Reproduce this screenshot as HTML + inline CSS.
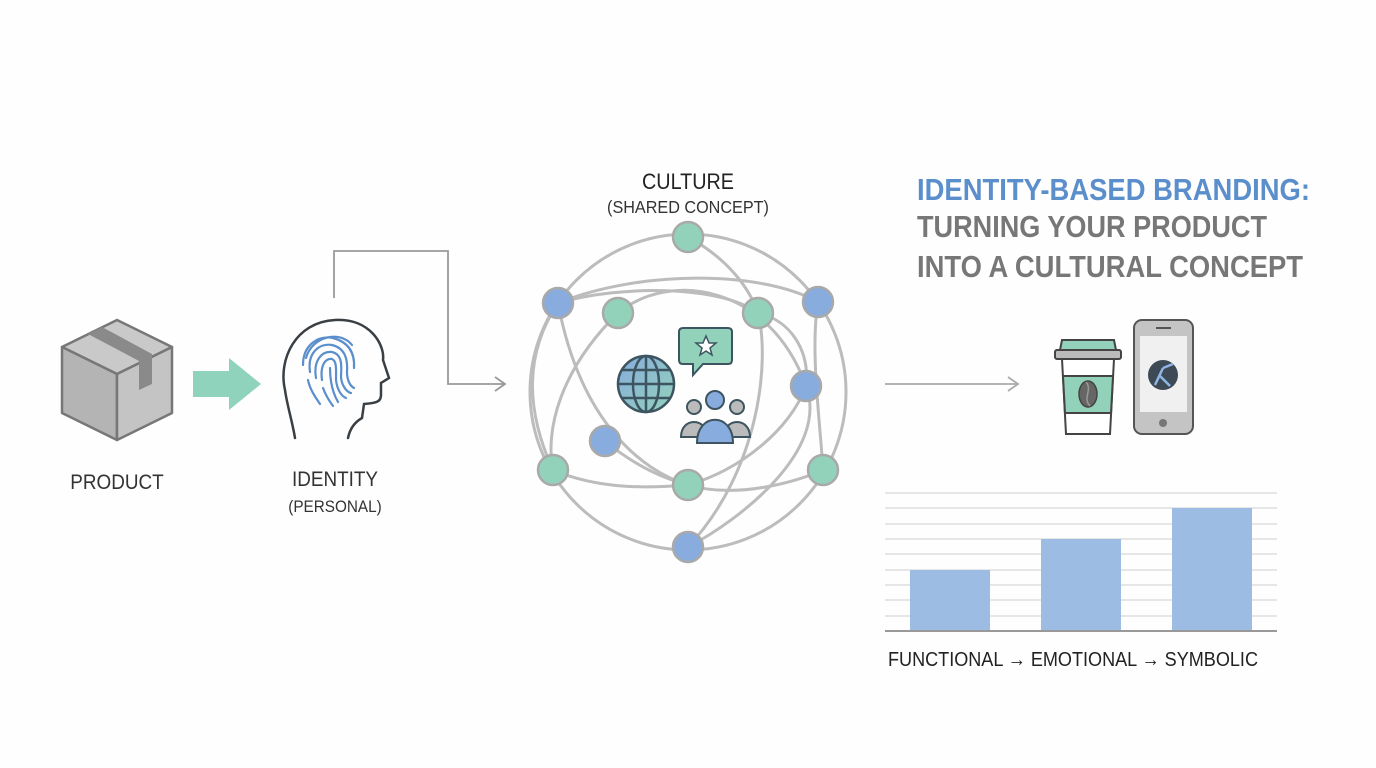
<!DOCTYPE html>
<html><head><meta charset="utf-8"><style>
html,body{margin:0;padding:0;background:#fff;}
svg{display:block}
text{font-family:"Liberation Sans",sans-serif;}
</style></head><body>
<svg width="1376" height="768" viewBox="0 0 1376 768" xmlns="http://www.w3.org/2000/svg">
<defs><linearGradient id="gl" x1="0" y1="0" x2="1" y2="1"><stop offset="0" stop-color="#88acde"/><stop offset="1" stop-color="#93d2ba"/></linearGradient></defs>
<rect width="1376" height="768" fill="#fefefe"/>
<!-- Box -->
<g stroke="#777" stroke-width="2.5" stroke-linejoin="round">
<polygon points="62,347 117,320 172,347 117,374" fill="#c9c9c9"/>
<polygon points="62,347 117,374 117,440 62,413" fill="#b4b4b4"/>
<polygon points="117,374 172,347 172,413 117,440" fill="#c4c4c4"/>
</g>
<polygon points="88,334 102,327 152,354 152,384 139,390 139,361" fill="#8a8a8a"/>
<!-- green arrow -->
<polygon points="193,371 229,371 229,358 261,384 229,410 229,397 193,397" fill="#8fd3bd"/>
<text x="117" y="489" font-size="21" fill="#333" text-anchor="middle" transform="translate(117 0) scale(0.9 1) translate(-117 0)">PRODUCT</text>
<!-- Head -->
<path d="M295,438 C292,420 287,405 285,390 C278,360 295,322 335,320 C370,318 385,345 383,360 L389,378 L381,383 L381,395 C381,402 376,403 364,404 L362,418 C355,422 350,428 348,438" fill="none" stroke="#3a3f44" stroke-width="2.5" stroke-linecap="round"/>
<g fill="none" stroke="#5b8fcc" stroke-width="2.2" stroke-linecap="round">
<path d="M303,365 C303,345 318,335 333,338 C348,342 355,352 354,368"/>
<path d="M310,372 C307,352 320,343 332,345 C344,348 348,357 347,372 C347,380 350,386 354,388"/>
<path d="M316,378 C313,360 322,351 332,352 C341,354 342,362 341,376 C341,384 346,392 351,393"/>
<path d="M322,380 C320,366 325,358 332,359 C337,361 336,370 336,380 C337,389 341,396 346,398"/>
<path d="M330,368 C330,385 334,395 338,402"/>
<path d="M323,388 C326,396 330,402 333,406"/>
<path d="M308,380 C310,390 316,398 320,404"/>
<path d="M306,358 C312,336 340,330 352,345"/>
</g>
<text x="335" y="486" font-size="21" fill="#333" text-anchor="middle" transform="translate(335 0) scale(0.9 1) translate(-335 0)">IDENTITY</text>
<text x="335" y="512" font-size="17" fill="#333" text-anchor="middle" transform="translate(335 0) scale(0.9 1) translate(-335 0)">(PERSONAL)</text>
<!-- connector -->
<polyline points="334,298 334,251 448,251 448,384 505,384" fill="none" stroke="#999" stroke-width="1.8"/>
<polyline points="495,377 505,384 495,391" fill="none" stroke="#999" stroke-width="1.8"/>
<!-- Culture -->
<text x="688" y="189" font-size="22" fill="#222" text-anchor="middle" transform="translate(688 0) scale(0.9 1) translate(-688 0)">CULTURE</text>
<text x="688" y="213" font-size="18" fill="#333" text-anchor="middle" transform="translate(688 0) scale(0.9 1) translate(-688 0)">(SHARED CONCEPT)</text>
<g fill="none" stroke="#bcbcbc" stroke-width="3">
<circle cx="688" cy="392" r="158"/>
<path d="M558,303 C640,270 760,270 818,302"/>
<path d="M558,303 C580,420 640,470 688,485 C740,500 800,480 823,470"/>
<path d="M618,313 C670,270 770,285 806,386 C830,450 740,520 688,547"/>
<path d="M618,313 C560,370 545,430 553,470 C600,490 650,488 688,485"/>
<path d="M758,313 C790,320 810,350 806,386 C790,430 740,470 688,485"/>
<path d="M688,237 C730,260 750,290 758,313 C770,360 760,470 688,547"/>
<path d="M818,302 C810,350 820,420 823,470"/>
<path d="M558,303 C520,360 530,420 553,470"/>
<path d="M605,441 C640,470 670,480 688,485"/>
<path d="M558,303 C620,285 720,285 758,313"/>
</g>
<g stroke="#a9a9a9" stroke-width="2.5">
<circle cx="688" cy="237" r="15" fill="#93d2ba"/>
<circle cx="558" cy="303" r="15" fill="#88acde"/>
<circle cx="618" cy="313" r="15" fill="#93d2ba"/>
<circle cx="758" cy="313" r="15" fill="#93d2ba"/>
<circle cx="818" cy="302" r="15" fill="#88acde"/>
<circle cx="806" cy="386" r="15" fill="#88acde"/>
<circle cx="605" cy="441" r="15" fill="#88acde"/>
<circle cx="553" cy="470" r="15" fill="#93d2ba"/>
<circle cx="688" cy="485" r="15" fill="#93d2ba"/>
<circle cx="823" cy="470" r="15" fill="#93d2ba"/>
<circle cx="688" cy="547" r="15" fill="#88acde"/>
</g>
<!-- globe -->
<g stroke="#3d5560" stroke-width="2.5" fill="none">
<circle cx="646" cy="384" r="28" fill="url(#gl)"/>
<ellipse cx="646" cy="384" rx="13" ry="28"/>
<line x1="646" y1="356" x2="646" y2="412"/>
<line x1="618" y1="384" x2="674" y2="384"/>
<path d="M622,370 H670 M622,398 H670"/>
</g>
<!-- bubble -->
<path d="M683,328 H728 Q732,328 732,332 V360 Q732,364 728,364 H703 L693,375 V364 H683 Q679,364 679,360 V332 Q679,328 683,328 Z" fill="#93d2ba" stroke="#3d5560" stroke-width="2"/>
<polygon points="706,336 709,343 716,343 710,348 712,355 706,351 700,355 702,348 696,343 703,343" fill="#fff" stroke="#3d5560" stroke-width="1.5"/>
<!-- people -->
<g stroke="#3d5560" stroke-width="2">
<circle cx="694" cy="407" r="7" fill="#bbb"/>
<circle cx="737" cy="407" r="7" fill="#bbb"/>
<path d="M681,437 C681,417 707,417 707,437 Z" fill="#bbb"/>
<path d="M724,437 C724,417 750,417 750,437 Z" fill="#bbb"/>
<circle cx="715" cy="400" r="9" fill="#88acde"/>
<path d="M697,443 C697,412 733,412 733,443 Z" fill="#88acde"/>
</g>
<!-- right arrow -->
<line x1="885" y1="384" x2="1018" y2="384" stroke="#aaa" stroke-width="1.8"/>
<polyline points="1008,377 1018,384 1008,391" fill="none" stroke="#aaa" stroke-width="1.8"/>
<!-- title -->
<g font-weight="bold" font-size="31">
<text x="917" y="200" fill="#5b8fcc" textLength="393" lengthAdjust="spacingAndGlyphs">IDENTITY-BASED BRANDING:</text>
<text x="917" y="237" fill="#777" textLength="350" lengthAdjust="spacingAndGlyphs">TURNING YOUR PRODUCT</text>
<text x="917" y="277" fill="#777" textLength="386" lengthAdjust="spacingAndGlyphs">INTO A CULTURAL CONCEPT</text>
</g>
<!-- cup -->
<g stroke="#444" stroke-width="2">
<path d="M1062,340 H1114 L1116,350 H1060 Z" fill="#93d2ba"/>
<rect x="1055" y="350" width="66" height="9" rx="2" fill="#bbb"/>
<path d="M1062,359 H1114 L1110,434 H1066 Z" fill="#fff"/>
<path d="M1063,376 H1113 L1111,413 H1065 Z" fill="#93d2ba"/>
</g>
<ellipse cx="1088" cy="394" rx="9" ry="13" fill="#666" stroke="#444" stroke-width="1.5"/>
<path d="M1086,382 C1093,390 1082,398 1090,406" stroke="#999" stroke-width="1.5" fill="none"/>
<!-- phone -->
<rect x="1134" y="320" width="59" height="114" rx="8" fill="#c4c4c4" stroke="#555" stroke-width="2"/>
<rect x="1140" y="336" width="47" height="76" fill="#f0f0f0"/>
<line x1="1156" y1="328" x2="1171" y2="328" stroke="#555" stroke-width="2"/>
<circle cx="1163" cy="423" r="4" fill="#777"/>
<circle cx="1163" cy="375" r="15" fill="#3d4a55"/>
<path d="M1155,385 L1163,368 M1160,376 L1170,386 M1163,368 L1173,364" stroke="#8fb5e5" stroke-width="2.5" fill="none"/>
<!-- chart -->
<g stroke="#ddd" stroke-width="1.5">
<line x1="885" x2="1277" y1="493" y2="493"/><line x1="885" x2="1277" y1="508" y2="508"/>
<line x1="885" x2="1277" y1="524" y2="524"/><line x1="885" x2="1277" y1="539" y2="539"/>
<line x1="885" x2="1277" y1="554" y2="554"/><line x1="885" x2="1277" y1="570" y2="570"/>
<line x1="885" x2="1277" y1="585" y2="585"/><line x1="885" x2="1277" y1="600" y2="600"/>
<line x1="885" x2="1277" y1="616" y2="616"/>
</g>
<rect x="910" y="570" width="80" height="61" fill="#9dbce3"/>
<rect x="1041" y="539" width="80" height="92" fill="#9dbce3"/>
<rect x="1172" y="508" width="80" height="123" fill="#9dbce3"/>
<line x1="885" x2="1277" y1="631" y2="631" stroke="#999" stroke-width="2"/>
<text x="888" y="666" font-size="20" fill="#222" textLength="370" lengthAdjust="spacingAndGlyphs">FUNCTIONAL → EMOTIONAL → SYMBOLIC</text>
</svg>
</body></html>
